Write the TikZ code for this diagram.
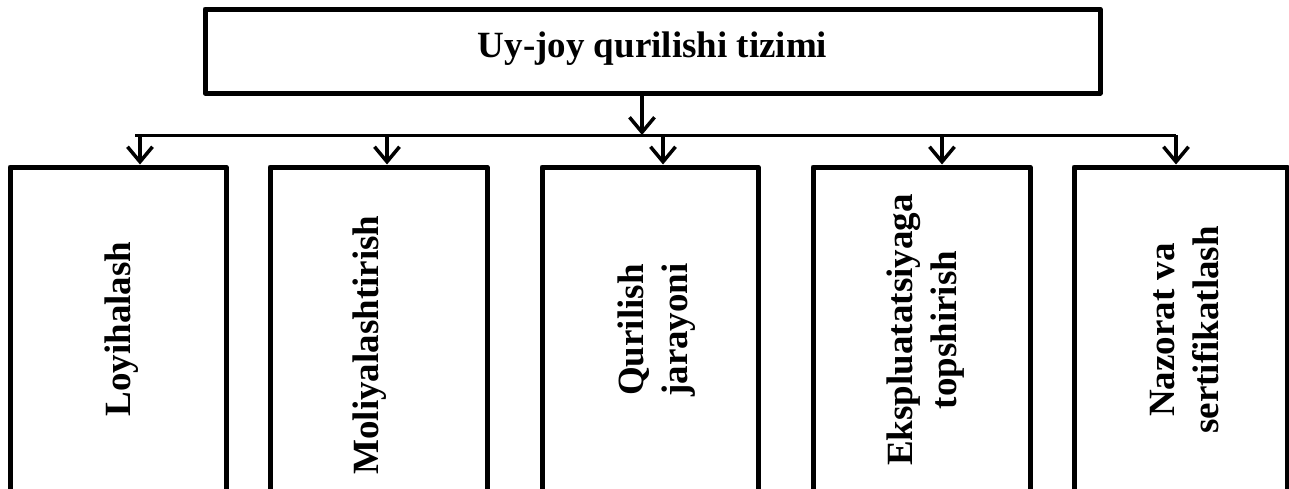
\documentclass[tikz,border=0pt]{standalone}
\usepackage{fontspec}
\setmainfont{Liberation Serif}
\usetikzlibrary{arrows.meta}
\begin{document}
\begin{tikzpicture}[x=1pt,y=-1pt,
  boxshape/.style={draw=black, line width=5pt, line join=round, fill=white, inner sep=0pt},
  lbl/.style={font=\bfseries\fontsize{37}{44}\selectfont, align=center, inner sep=0pt},
  vlbl/.style={lbl, rotate=90},
  conn/.style={draw=black, line width=3pt},
  arr/.style={draw=black, line width=3.5pt, -{Straight Barb[length=15pt,width=25pt,line width=3.5pt]}}
]
\useasboundingbox (0,0) rectangle (1289,488);
\clip (0,0) rectangle (1289,488);
\fill[white] (0,0) rectangle (1289,488);

% top box
\node[boxshape, minimum width=895pt, minimum height=84pt] (top) at (652.5,51) {};
\node[lbl] (toptext) at (652.5,48.5) {Uy-joy qurilishi tizimi};

% lower boxes
\node[boxshape, minimum width=216pt, minimum height=333pt] (b1) at (118,333.5) {};
\node[boxshape, minimum width=217pt, minimum height=333pt] (b2) at (378.5,333.5) {};
\node[boxshape, minimum width=216pt, minimum height=333pt] (b3) at (650,333.5) {};
\node[boxshape, minimum width=217pt, minimum height=333pt] (b4) at (921.5,333.5) {};
\node[boxshape, minimum width=213pt, minimum height=333pt] (b5) at (1180.5,333.5) {};

\node[vlbl] (t1) at (122,329) {Loyihalash};
\node[vlbl] (t2) at (370,345) {Moliyalashtirish};
\node[vlbl] (t3) at (657,330) {Qurilish\\jarayoni};
\node[vlbl] (t4) at (926,330) {Ekspluatatsiyaga\\topshirish};
\node[vlbl] (t5) at (1185,330) {Nazorat va\\sertifikatlash};

% connectors
\coordinate (hubL) at (135,135);
\coordinate (hubR) at (1176,135);
\coordinate (j0) at (642,135);
\coordinate (j1) at (140,135);
\coordinate (j2) at (387,135);
\coordinate (j3) at (663,135);
\coordinate (j4) at (942,135);
\coordinate (j5) at (1176,135);

\draw[conn] (hubL) -- (hubR);
\draw[arr] (top.south -| j0) -- (j0);
\draw[arr] (j1) -- (j1 |- b1.north);
\draw[arr] (j2) -- (j2 |- b2.north);
\draw[arr] (j3) -- (j3 |- b3.north);
\draw[arr] (j4) -- (j4 |- b4.north);
\draw[arr] (j5) -- (j5 |- b5.north);
\end{tikzpicture}
\end{document}
